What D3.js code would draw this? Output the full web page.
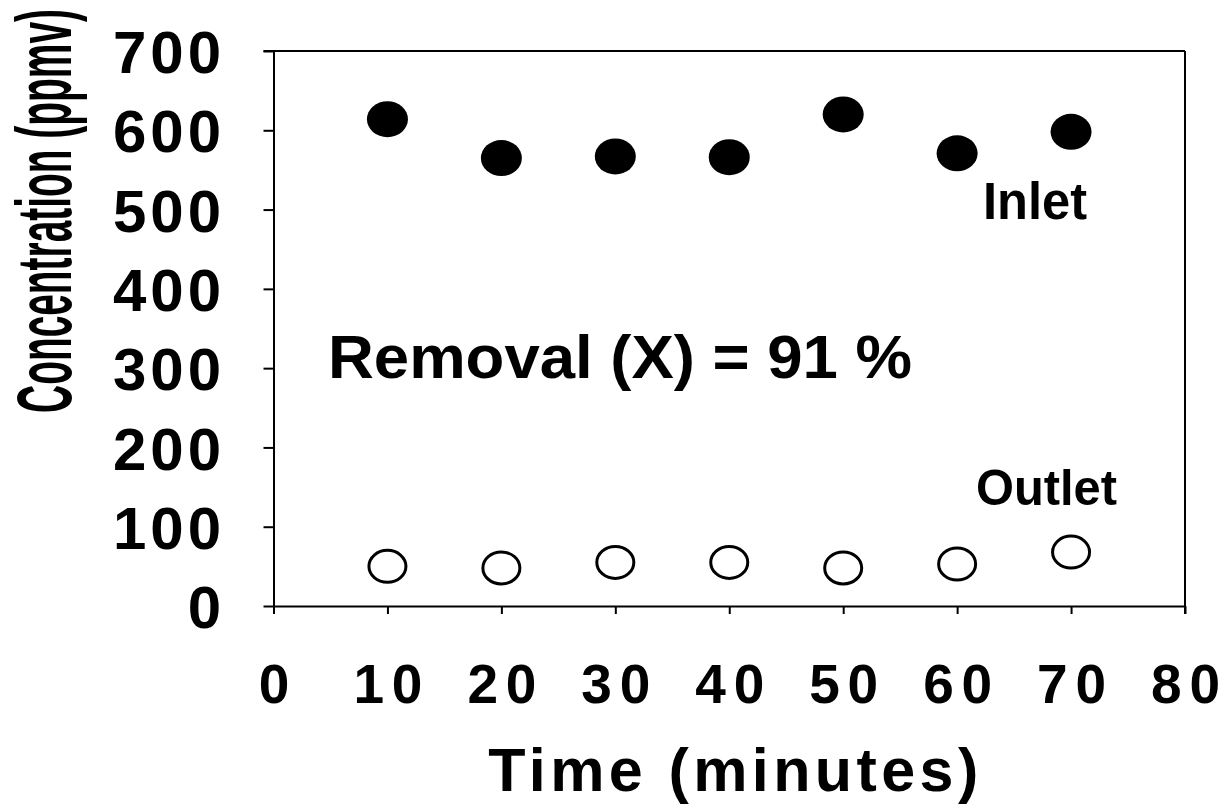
<!DOCTYPE html>
<html>
<head>
<meta charset="utf-8">
<script src="https://cdn.jsdelivr.net/npm/d3@7"></script>
<style>
  html, body { margin: 0; padding: 0; background: #fff; }
  svg { display: block; }
  text { font-family: "Liberation Sans", Arial, sans-serif; font-weight: bold; fill: #000; }
</style>
</head>
<body>
<svg id="chart" width="1224" height="804"></svg>
<script>
// ---- data ----
const times = [10, 20, 30, 40, 50, 60, 70];
const inlet = [614, 565, 567, 566, 620, 571, 598];
const outlet = [50, 48, 55, 55, 48, 53, 68];
const xTicks = [0, 10, 20, 30, 40, 50, 60, 70, 80];
const yTicks = [0, 100, 200, 300, 400, 500, 600, 700];
const xTitle = "Time (minutes)";
const yTitle = "Concentration (ppmv)";
const annotation = "Removal (X) = 91 %";
const inletLabel = "Inlet";
const outletLabel = "Outlet";

// ---- layout ----
const L = 273.5, R = 1185, T = 51, B = 606;
const svg = d3.select("#chart");
const x = d3.scaleLinear().domain([0, 80]).range([L, R]);
const y = d3.scaleLinear().domain([0, 700]).range([B, T]);

// frame (top and right)
svg.append("line").attr("x1", L - 10).attr("x2", R).attr("y1", T).attr("y2", T)
  .attr("stroke", "#000").attr("stroke-width", 2);
svg.append("line").attr("x1", R).attr("x2", R).attr("y1", T).attr("y2", B + 8)
  .attr("stroke", "#000").attr("stroke-width", 2);

// y axis
const yAxis = svg.append("g").attr("transform", `translate(${L},0)`)
  .call(d3.axisLeft(y).tickValues(yTicks).tickSize(10).tickSizeOuter(0).tickFormat(d3.format("d")));
yAxis.select(".domain").attr("stroke", "#000").attr("stroke-width", 2);
yAxis.selectAll(".tick line").attr("stroke", "#000").attr("stroke-width", 2);
yAxis.selectAll(".tick text")
  .attr("x", -52.5)
  .attr("dy", "0.36em")
  .style("font-size", "60px")
  .attr("text-anchor", "end")
  .each(function(d) {
    const s = String(d);
    d3.select(this).attr("textLength", s.length === 1 ? 33 : 108).attr("lengthAdjust", "spacing");
  });

// x axis
const xAxis = svg.append("g").attr("transform", `translate(0,${B})`)
  .call(d3.axisBottom(x).tickValues(xTicks).tickSize(8).tickSizeOuter(0).tickFormat(d3.format("d")));
xAxis.select(".domain").attr("stroke", "#000").attr("stroke-width", 2);
xAxis.selectAll(".tick line").attr("stroke", "#000").attr("stroke-width", 2);
xAxis.selectAll(".tick text")
  .attr("y", 97)
  .attr("dy", 0)
  .style("font-size", "55px")
  .attr("text-anchor", "middle")
  .each(function(d) {
    const s = String(d);
    if (s.length > 1) d3.select(this).attr("textLength", 69).attr("lengthAdjust", "spacing");
  });

// titles
svg.append("text")
  .attr("x", (L + R) / 2 + 4).attr("y", 791)
  .attr("text-anchor", "middle")
  .style("font-size", "61px")
  .attr("textLength", 490).attr("lengthAdjust", "spacing")
  .text(xTitle);

const yt = svg.append("text")
  .attr("text-anchor", "middle")
  .style("font-size", "77px")
  .text(yTitle);
const natural = yt.node().getComputedTextLength();
yt.attr("transform", `translate(71,211) rotate(-90) scale(${404 / natural},1)`);

// annotation and labels
svg.append("text")
  .attr("x", 328).attr("y", 378)
  .style("font-size", "62px")
  .attr("textLength", 584).attr("lengthAdjust", "spacingAndGlyphs")
  .text(annotation);

svg.append("text")
  .attr("x", 983).attr("y", 219)
  .style("font-size", "51px")
  .attr("textLength", 104).attr("lengthAdjust", "spacingAndGlyphs")
  .text(inletLabel);

svg.append("text")
  .attr("x", 976).attr("y", 505)
  .style("font-size", "50px")
  .attr("textLength", 141).attr("lengthAdjust", "spacingAndGlyphs")
  .text(outletLabel);

// markers
svg.append("g").selectAll("ellipse")
  .data(times.map((t, i) => ({ t, v: inlet[i] })))
  .join("ellipse")
  .attr("cx", d => x(d.t)).attr("cy", d => y(d.v))
  .attr("rx", 20.5).attr("ry", 18)
  .attr("fill", "#000");

svg.append("g").selectAll("ellipse")
  .data(times.map((t, i) => ({ t, v: outlet[i] })))
  .join("ellipse")
  .attr("cx", d => x(d.t)).attr("cy", d => y(d.v))
  .attr("rx", 18.5).attr("ry", 16)
  .attr("fill", "#fff").attr("stroke", "#000").attr("stroke-width", 3);
</script>
</body>
</html>
